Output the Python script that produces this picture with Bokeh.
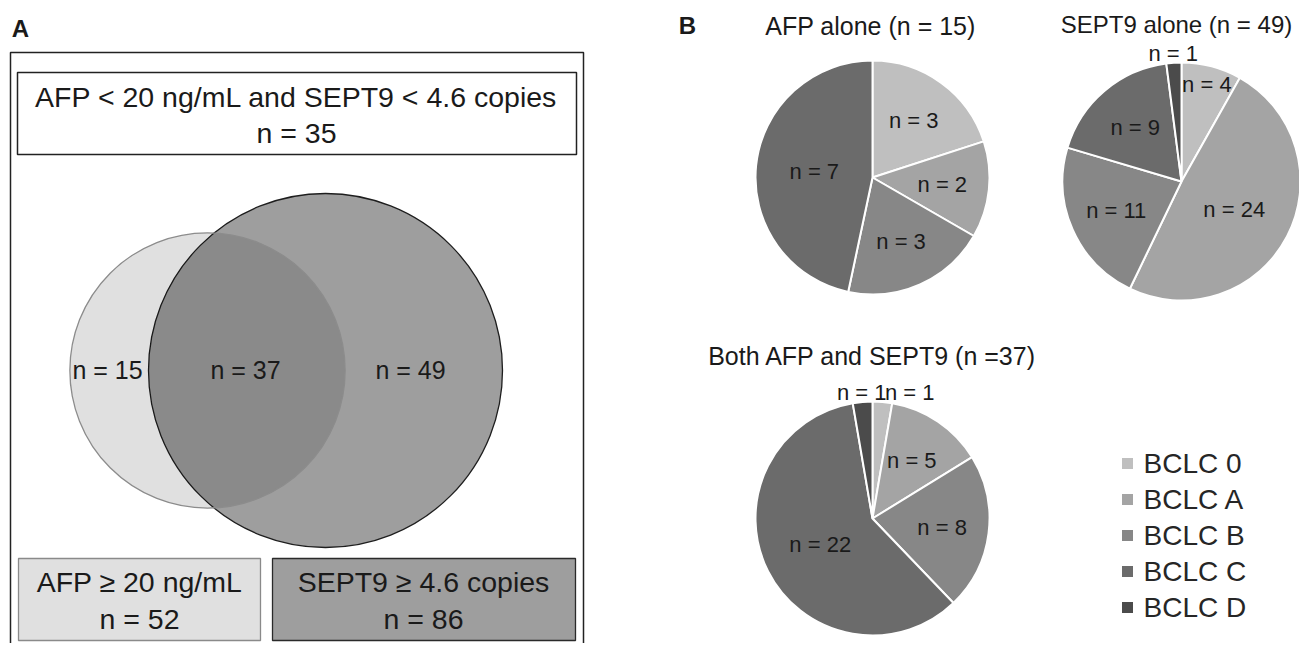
import math
from bokeh.plotting import figure
from bokeh.models import Range1d
from bokeh.embed import file_html
from bokeh.resources import INLINE
from bokeh.core.properties import value

# ---------------- data ----------------
stages = ["BCLC 0", "BCLC A", "BCLC B", "BCLC C", "BCLC D"]
stage_colors = ["#bfbfbf", "#a4a4a4", "#878787", "#6b6b6b", "#4b4b4b"]

afp_alone = [3, 2, 3, 7, 0]
sept9_alone = [4, 24, 11, 9, 1]
both_markers = [1, 5, 8, 22, 1]
pie_titles = ["AFP alone (n = 15)", "SEPT9 alone (n = 49)", "Both AFP and SEPT9 (n =37)"]

venn_counts = [15, 37, 49]          # AFP only, both, SEPT9 only
set_totals = [52, 86]               # AFP >= 20, SEPT9 >= 4.6
set_labels = ["AFP \u2265 20 ng/mL", "SEPT9 \u2265 4.6 copies"]
neither_label = "AFP < 20 ng/mL and SEPT9 < 4.6 copies"
neither_count = 35

# ---------------- layout ----------------
W, H = 1299, 643
PAGE_H = 651
FONT = value("Liberation Sans")
TXT = "#1a1a1a"


def S(y):
    """screen y -> data y"""
    return PAGE_H - y


p = figure(width=W, height=H, output_backend="svg", toolbar_location=None,
           x_range=Range1d(0, W), y_range=Range1d(PAGE_H - H, PAGE_H),
           x_axis_type=None, y_axis_type=None, min_border=0)
p.outline_line_color = None
p.grid.visible = False
p.background_fill_color = "white"
p.border_fill_color = "white"


def label(x, y, txt, size, align="center", bold=False, color=TXT):
    p.text(x=[x], y=[y], text=[txt], text_font=FONT, text_font_size=f"{size}px",
           text_align=align, text_baseline="middle", text_color=color,
           text_font_style="bold" if bold else "normal")


# ---------- Panel A ----------
label(20, S(28), "A", 24, bold=True)
# outer frame
p.quad(left=[10], right=[583], top=[S(52)], bottom=[S(670)],
       fill_color=None, line_color="#222222", line_width=1.5)
# top box
p.quad(left=[17], right=[576], top=[S(72)], bottom=[S(154)],
       fill_color="white", line_color="#222222", line_width=1.5)
label(296, S(96), neither_label, 28.5)
label(296, S(132), f"n = {neither_count}", 28.5)

# Venn circles (area proportional to set size)
k = 177 / math.sqrt(max(set_totals))
r_afp = k * math.sqrt(set_totals[0])
r_sep = k * math.sqrt(set_totals[1])
cy = S(370)
p.circle(x=[325], y=[cy], radius=r_sep, fill_color="#9e9e9e",
         line_color="#1e1e1e", line_width=1.3)
p.circle(x=[207], y=[cy], radius=r_afp, fill_color="black", fill_alpha=0.12,
         line_color="#8c8c8c", line_width=1.3)
for xx, n in zip([107, 245, 410], venn_counts):
    label(xx, S(369), f"n = {n}", 25)

# bottom boxes
p.quad(left=[18], right=[260], top=[S(558)], bottom=[S(640)],
       fill_color="#e0e0e0", line_color="#8a8a8a", line_width=1.3)
p.quad(left=[272], right=[575], top=[S(558)], bottom=[S(640)],
       fill_color="#9e9e9e", line_color="#2a2a2a", line_width=1.3)
for xx, lab, n in zip([139, 423], set_labels, set_totals):
    label(xx, S(581), lab, 28.5)
    label(xx, S(618), f"n = {n}", 28.5)

# ---------- Panel B ----------
label(687, S(25), "B", 24, bold=True)

pies = [afp_alone, sept9_alone, both_markers]
centers = [(872, 177), (1181, 181), (872, 518)]
radii = [117, 119, 117]
title_y = [25, 24, 355]
title_dx = [-2, -5, 0]
title_size = [25, 24, 25]

for counts, (cx, cys), r, title, ty, tdx, tsz in zip(pies, centers, radii, pie_titles,
                                                     title_y, title_dx, title_size):
    ccy = S(cys)
    total = sum(counts)
    label(cx + tdx, S(ty), title, tsz)
    cum = 0
    outside = []
    for cnt, col in zip(counts, stage_colors):
        if cnt == 0:
            continue
        a0 = 2 * math.pi * cum / total
        a1 = 2 * math.pi * (cum + cnt) / total
        cum += cnt
        p.wedge(x=[cx], y=[ccy], radius=r,
                start_angle=math.pi / 2 - a0, end_angle=math.pi / 2 - a1,
                direction="clock", fill_color=col, line_color="white", line_width=2)
        frac = cnt / total
        mid = (a0 + a1) / 2
        if frac < 0.05:
            f = 1.08
        elif frac < 0.1:
            f = 0.84
        elif frac > 0.4:
            f = 0.5
        else:
            f = 0.6
        lx = cx + f * r * math.sin(mid)
        ly = ccy + f * r * math.cos(mid)
        if f > 1:
            outside.append([lx, ly, f"n = {cnt}"])
        else:
            label(lx, ly, f"n = {cnt}", 22)
    outside.sort(key=lambda t: t[0])
    for i in range(1, len(outside)):
        if outside[i][0] - outside[i - 1][0] < 48:
            outside[i][0] = outside[i - 1][0] + 48
    for lx, ly, t in outside:
        label(lx, ly, t, 22)

# legend
for i, (st, col) in enumerate(zip(stages, stage_colors)):
    yy = S(463 + 36 * i)
    p.scatter(x=[1127], y=[yy], marker="square", size=11, fill_color=col,
              line_color=None)
    label(1143, yy, st, 28, align="left", color="#262626")

open("out.html", "w").write(file_html(p, INLINE))
